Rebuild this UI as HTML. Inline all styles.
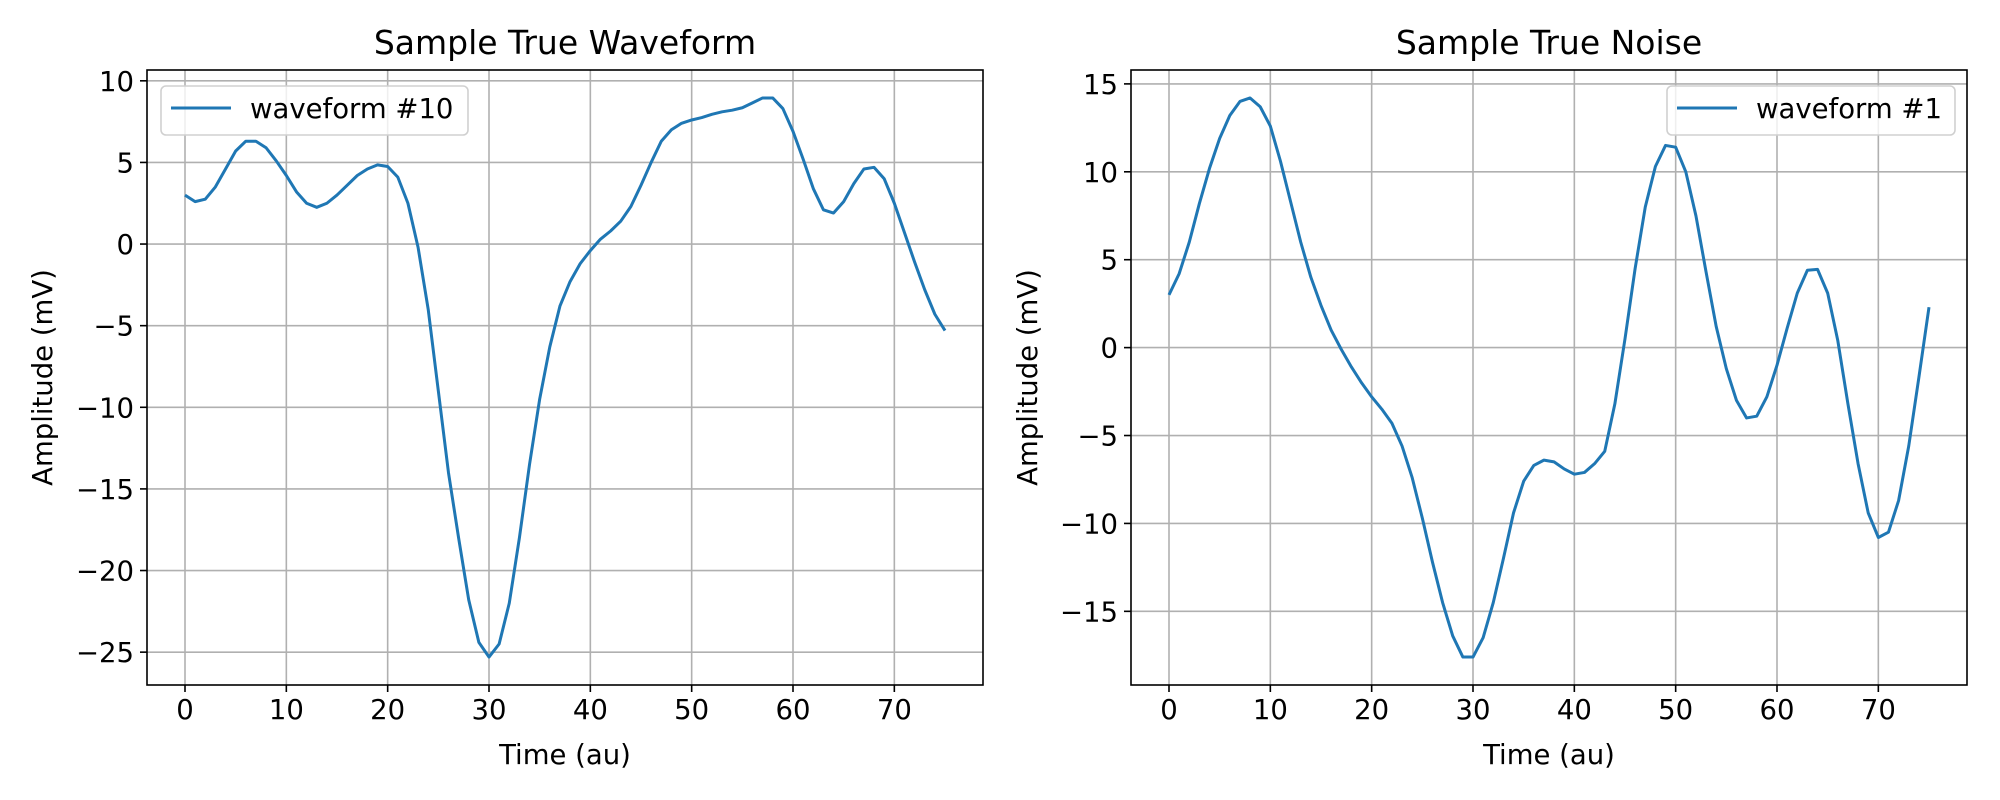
<!DOCTYPE html>
<html><head><meta charset="utf-8"><style>
body{margin:0;background:#fff;}
svg{display:block;font-family:"DejaVu Sans","Liberation Sans",sans-serif;}
</style></head><body>
<svg id="fig" width="2000" height="800" viewBox="0 0 2000 800"></svg>
<script>
const timeValues = Array.from({length:76},(_,i)=>i);
const waveformValues = [3.0,2.6,2.75,3.5,4.6,5.7,6.3,6.3,5.9,5.1,4.2,3.2,2.5,2.25,2.5,3.0,3.6,4.2,4.6,4.85,4.75,4.1,2.5,-0.2,-4,-9,-14,-18,-21.8,-24.4,-25.3,-24.5,-22,-18,-13.5,-9.5,-6.3,-3.8,-2.3,-1.2,-0.4,0.3,0.8,1.4,2.3,3.6,5.0,6.3,7.0,7.4,7.6,7.75,7.95,8.1,8.2,8.35,8.65,8.95,8.95,8.3,6.9,5.2,3.4,2.1,1.9,2.6,3.7,4.6,4.7,4.0,2.5,0.7,-1.1,-2.8,-4.3,-5.3];
const noiseValues = [3.0,4.2,6.0,8.2,10.2,11.9,13.2,14.0,14.2,13.7,12.6,10.6,8.3,6.0,4.0,2.4,1.0,-0.1,-1.1,-2.0,-2.8,-3.5,-4.3,-5.6,-7.4,-9.7,-12.2,-14.5,-16.4,-17.6,-17.6,-16.5,-14.5,-12.0,-9.4,-7.6,-6.7,-6.4,-6.5,-6.9,-7.2,-7.1,-6.6,-5.9,-3.2,0.5,4.5,8.0,10.3,11.5,11.4,10.0,7.5,4.3,1.2,-1.2,-3.0,-4.0,-3.9,-2.8,-1.0,1.1,3.1,4.4,4.45,3.1,0.4,-3.2,-6.6,-9.4,-10.8,-10.5,-8.7,-5.6,-1.7,2.3];
const xTicks = [0,10,20,30,40,50,60,70];
const yTicksLeft = [10,5,0,-5,-10,-15,-20,-25];
const yTicksRight = [15,10,5,0,-5,-10,-15];

const NS="http://www.w3.org/2000/svg";
const svg=document.getElementById('fig');
function mk(tag,attrs,parent,text){const e=document.createElementNS(NS,tag);for(const k in attrs)e.setAttribute(k,attrs[k]);if(text!==undefined)e.textContent=text;(parent||svg).appendChild(e);return e;}
function fmt(v){return v<0?'\u2212'+Math.abs(v):String(v);}

function panel(o){
  const g=mk('g',{});
  
  
  const L=o.x0,R=o.x1,T=70,B=685;
  const xmin=-3.75,xmax=78.75;
  const ys=o.values, dmin=Math.min(...ys), dmax=Math.max(...ys), m=(dmax-dmin)*0.05;
  const ymin=dmin-m,ymax=dmax+m;
  const X=v=>L+(v-xmin)/(xmax-xmin)*(R-L);
  const Y=v=>B-(v-ymin)/(ymax-ymin)*(B-T);
  xTicks.forEach(t=>{
    const gl=mk('line',{x1:X(t),x2:X(t),y1:T,y2:B,stroke:'#b0b0b0','stroke-width':1.6},g);
    
    
    mk('line',{x1:X(t),x2:X(t),y1:B,y2:B+7,stroke:'#000','stroke-width':1.6},g);
    const tl=mk('text',{x:X(t),y:B+34,'font-size':27.5,'text-anchor':'middle',fill:'#000'},g,fmt(t));
    
    
  });
  o.yTicks.forEach(t=>{
    const gl=mk('line',{x1:L,x2:R,y1:Y(t),y2:Y(t),stroke:'#b0b0b0','stroke-width':1.6},g);
    
    
    mk('line',{x1:L-7,x2:L,y1:Y(t),y2:Y(t),stroke:'#000','stroke-width':1.6},g);
    const tl=mk('text',{x:L-13,y:Y(t)+10,'font-size':27.5,'text-anchor':'end',fill:'#000'},g,fmt(t));
    
    
  });
  const pts=timeValues.map((t,i)=>X(t).toFixed(2)+','+Y(ys[i]).toFixed(2)).join(' ');
  const line=mk('polyline',{points:pts,fill:'none',stroke:'#1f77b4','stroke-width':3,'stroke-linejoin':'round'},g);
  
  
  const fr=mk('rect',{x:L,y:T,width:R-L,height:B-T,fill:'none',stroke:'#000','stroke-width':1.6},g);
  
  
  const ti=mk('text',{x:(L+R)/2,y:54,'font-size':33,'text-anchor':'middle',fill:'#000'},g,o.title);
  
  
  const xl=mk('text',{x:(L+R)/2,y:764,'font-size':27.5,'text-anchor':'middle',fill:'#000'},g,'Time (au)');
  
  
  const yl=mk('text',{x:0,y:0,'font-size':27.5,'text-anchor':'middle',fill:'#000',transform:`translate(${o.ylx},${(T+B)/2}) rotate(-90)`},g,'Amplitude (mV)');
  
  
  const lg=mk('g',{},g);
  
  
  mk('rect',{x:o.lgx,y:86,width:o.lgw,height:49,rx:5,fill:'#fff','fill-opacity':0.8,stroke:'#d0d0d0','stroke-width':1.6},lg);
  mk('line',{x1:o.lgx+10,x2:o.lgx+70,y1:108,y2:108,stroke:'#1f77b4','stroke-width':3},lg);
  const lt=mk('text',{x:o.lgx+89,y:118,'font-size':27.5,fill:'#000'},lg,o.label);
  
  
}
panel({name:'waveform-panel',x0:147,x1:983,values:waveformValues,yTicks:yTicksLeft,title:'Sample True Waveform',label:'waveform #10',ylx:52,lgx:161,lgw:307});
panel({name:'noise-panel',x0:1131,x1:1967,values:noiseValues,yTicks:yTicksRight,title:'Sample True Noise',label:'waveform #1',ylx:1037,lgx:1667,lgw:288});
</script>
</body></html>
